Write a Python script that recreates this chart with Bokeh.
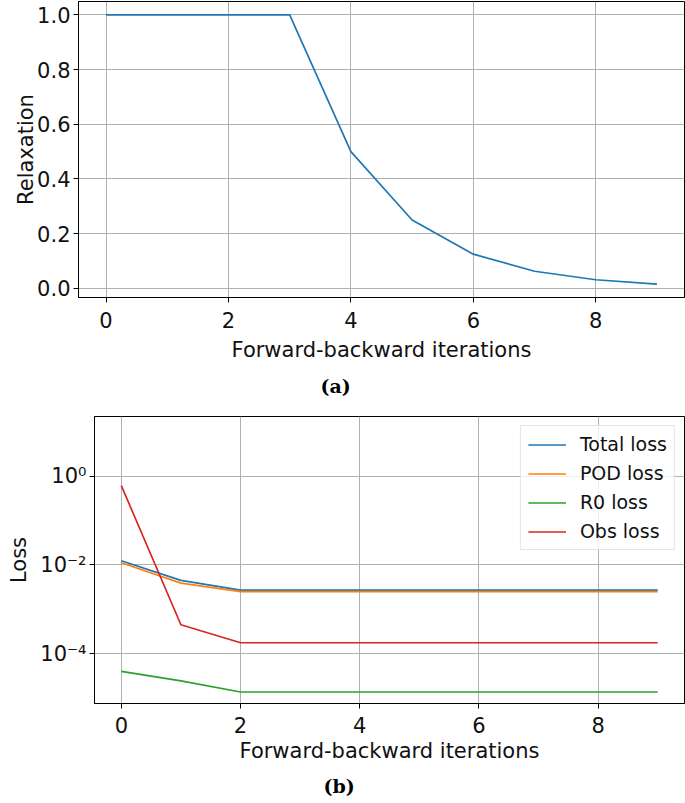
from bokeh.plotting import figure
from bokeh.models import (Range1d, FixedTicker, NumeralTickFormatter,
                          CustomJSTickFormatter, Title)
from bokeh.embed import file_html
from bokeh.resources import INLINE

# ---- data ----
iterations = [0, 1, 2, 3, 4, 5, 6, 7, 8, 9]
relaxation = [1.0, 1.0, 1.0, 1.0, 0.5, 0.25, 0.125, 0.0625, 0.03125, 0.015625]

total_loss = [0.0124, 0.0045, 0.0027, 0.0027, 0.0027, 0.0027, 0.0027, 0.0027, 0.0027, 0.0027]
pod_loss = [0.0112, 0.0039, 0.0025, 0.0025, 0.0025, 0.0025, 0.0025, 0.0025, 0.0025, 0.0025]
r0_loss = [4.0e-5, 2.45e-5, 1.38e-5, 1.38e-5, 1.38e-5, 1.38e-5, 1.38e-5, 1.38e-5, 1.38e-5, 1.38e-5]
obs_loss = [0.61, 4.5e-4, 1.77e-4, 1.77e-4, 1.77e-4, 1.77e-4, 1.77e-4, 1.77e-4, 1.77e-4, 1.77e-4]

series_names = ["Total loss", "POD loss", "R0 loss", "Obs loss"]
series_colors = ["#1f77b4", "#ff7f0e", "#2ca02c", "#d62728"]

x_ticks = [0, 2, 4, 6, 8]
relax_ticks = [0.0, 0.2, 0.4, 0.6, 0.8, 1.0]
loss_ticks = [1e-4, 1e-2, 1.0]

x_label = "Forward-backward iterations"
FONT = "DejaVu Sans"
TXT = "#111111"


def style(p, s1, s2, ys):
    p.outline_line_color = "black"
    p.outline_line_width = 1
    p.outline_line_alpha = 1
    p.background_fill_color = "white"
    p.border_fill_color = "white"
    for ax in p.axis:
        ax.axis_line_color = "black"
        ax.major_tick_line_color = "black"
        ax.major_tick_out = 5
        ax.major_tick_in = 0
        ax.minor_tick_out = 0
        ax.minor_tick_in = 0
        ax.major_label_text_font = FONT
        ax.major_label_text_font_size = "21px"
        ax.major_label_text_color = TXT
        ax.axis_label_text_font = FONT
        ax.axis_label_text_font_size = "21px"
        ax.axis_label_text_font_style = "normal"
        ax.axis_label_text_color = TXT
    for ax in p.xaxis:
        ax.major_label_standoff = s1
        ax.axis_label_standoff = s2
    for ax in p.yaxis:
        ax.major_label_standoff = 3
        ax.axis_label_standoff = ys
    for g in p.grid:
        g.grid_line_color = "#b0b0b0"
        g.grid_line_width = 1


def caption(text, offset, standoff):
    return Title(text=text, align="left", offset=offset, text_font="DejaVu Serif",
                 text_font_style="bold", text_font_size="19px", text_color="black",
                 standoff=standoff)


# ---- (a) relaxation ----
pa = figure(width=685, frame_height=296, output_backend="svg", toolbar_location=None,
            x_range=Range1d(-0.45, 9.45), y_range=Range1d(-0.0336, 1.049),
            min_border_left=78, min_border_right=1, min_border_top=1,
            min_border_bottom=0)
pa.line(iterations, relaxation, line_color=series_colors[0], line_width=1.7)
pa.xaxis.ticker = FixedTicker(ticks=x_ticks, minor_ticks=[])
pa.yaxis.ticker = FixedTicker(ticks=relax_ticks, minor_ticks=[])
pa.yaxis.formatter = NumeralTickFormatter(format="0.0")
pa.xaxis.axis_label = x_label
pa.yaxis.axis_label = "Relaxation"
style(pa, 9, 7, -4)
pa.add_layout(caption("(a)", 242, 16), "below")

# ---- (b) losses ----
pb = figure(width=685, frame_height=287, output_backend="svg", toolbar_location=None,
            x_range=Range1d(-0.45, 9.45), y_range=Range1d(7.6e-6, 21.9),
            y_axis_type="log",
            min_border_left=94, min_border_right=1, min_border_top=12,
            min_border_bottom=0)
for vals, name, col in zip([total_loss, pod_loss, r0_loss, obs_loss],
                           series_names, series_colors):
    pb.line(iterations, vals, line_color=col, line_width=1.7, legend_label=name)
pb.xaxis.ticker = FixedTicker(ticks=x_ticks, minor_ticks=[])
pb.yaxis.ticker = FixedTicker(ticks=loss_ticks, minor_ticks=[])
pb.yaxis.formatter = CustomJSTickFormatter(code="""
const e = Math.round(Math.log10(tick));
const sup = {'-':'\u207b','0':'\u2070','1':'\u00b9','2':'\u00b2','3':'\u00b3','4':'\u2074',
             '5':'\u2075','6':'\u2076','7':'\u2077','8':'\u2078','9':'\u2079'};
return '10' + String(e).split('').map(c => sup[c]).join('');
""")
pb.xaxis.axis_label = x_label
pb.yaxis.axis_label = "Loss"
style(pb, 8, 3, 6)
lg = pb.legend[0]
lg.location = "top_right"
lg.margin = 9
lg.padding = 7
lg.spacing = 7
lg.glyph_width = 38
lg.glyph_height = 21
lg.label_height = 21
lg.label_standoff = 14
lg.label_text_font = FONT
lg.label_text_font_size = "19px"
lg.label_text_color = TXT
lg.border_line_color = "#cccccc"
lg.border_line_width = 1
lg.background_fill_color = "white"
lg.background_fill_alpha = 0.8
pb.add_layout(caption("(b)", 229, 14), "below")

open("out.html", "w").write(file_html([pa, pb], INLINE))
